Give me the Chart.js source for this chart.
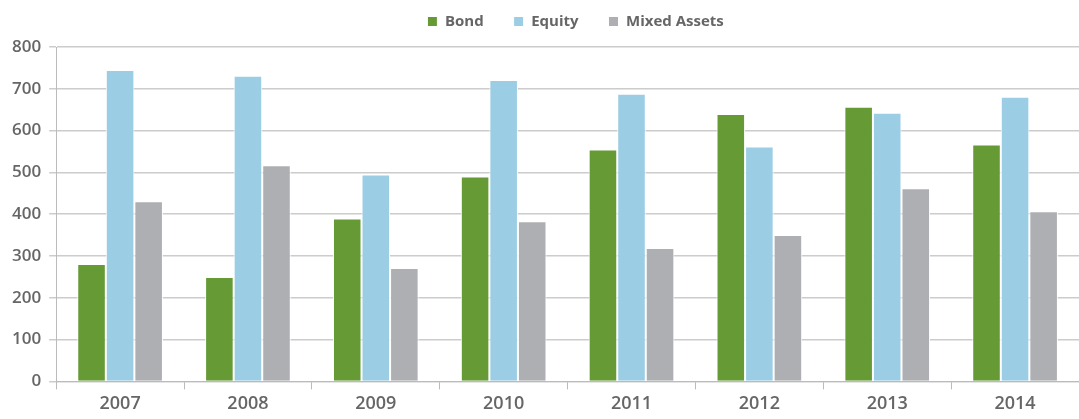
<!DOCTYPE html>
<html>
<head>
<meta charset="utf-8">
<script src="https://cdn.jsdelivr.net/npm/chart.js@4"></script>
<style>
  html, body { margin: 0; padding: 0; background: #ffffff; }
  #wrap { width: 1079px; height: 419px; }
</style>
</head>
<body>
<div id="wrap"><canvas id="chart" width="1079" height="419"></canvas></div>
<script>
const years = ['2007', '2008', '2009', '2010', '2011', '2012', '2013', '2014'];
const bond = [281, 250, 390, 490, 555, 640, 657, 567];
const equity = [745, 731, 495, 721, 688, 562, 643, 681];
const mixedAssets = [431, 517, 271, 383, 319, 350, 462, 407];

const grey = '#666666';
const fontFamily = '"Open Sans", Lato, sans-serif';

// give the legend a bit more room below it and nudge it right
const legendTweak = {
    id: 'legendTweak',
    beforeInit(chart) {
        const fit = chart.legend.fit;
        chart.legend.fit = function () {
            fit.bind(chart.legend)();
            this.height += 8;
        };
    },
    afterLayout(chart) {
        chart.legend.left += 8;
        chart.legend.right += 8;
    }
};

const data = {
    labels: years,
    datasets: [{
        label: 'Bond',
        data: bond,
        backgroundColor: '#659a34',
        borderColor: '#ffffff',
        borderWidth: 1,
    }, {
        label: 'Equity',
        data: equity,
        backgroundColor: '#9bcde4',
        borderColor: '#ffffff',
        borderWidth: 1,
    }, {
        label: 'Mixed Assets',
        data: mixedAssets,
        backgroundColor: '#aeafb2',
        borderColor: '#ffffff',
        borderWidth: 1,
    }]
};

const config = {
    type: 'bar',
    data: data,
    options: {
        responsive: false,
        animation: false,
        layout: { padding: { top: -16, right: 0, left: 4, bottom: 0 } },
        datasets: {
            bar: { categoryPercentage: 0.67, barPercentage: 1.0 }
        },
        scales: {
            x: {
                grid: {
                    display: true,
                    offset: true,
                    drawOnChartArea: false,
                    drawTicks: true,
                    tickLength: 8,
                    color: '#bbbbbb',
                },
                border: { color: '#bbbbbb' },
                ticks: {
                    color: grey,
                    font: { family: fontFamily, size: 18, weight: 600 },
                    padding: 4,
                },
            },
            y: {
                min: 0,
                max: 800,
                ticks: {
                    stepSize: 100,
                    color: grey,
                    font: { family: fontFamily, size: 17, weight: 600 },
                    padding: 8,
                },
                grid: {
                    color: '#cccccc',
                    lineWidth: 1.5,
                    tickLength: 7,
                },
                border: { color: '#bbbbbb' },
            },
        },
        plugins: {
            legend: {
                position: 'top',
                fullSize: false,
                labels: {
                    boxWidth: 10,
                    boxHeight: 10,
                    padding: 30,
                    color: grey,
                    font: { family: fontFamily, size: 15, weight: 'bold' },
                },
            },
            tooltip: { enabled: false },
        }
    },
    plugins: [legendTweak],
};

var myChart = new Chart(
    document.getElementById('chart').getContext('2d'),
    config
);
</script>
</body>
</html>
